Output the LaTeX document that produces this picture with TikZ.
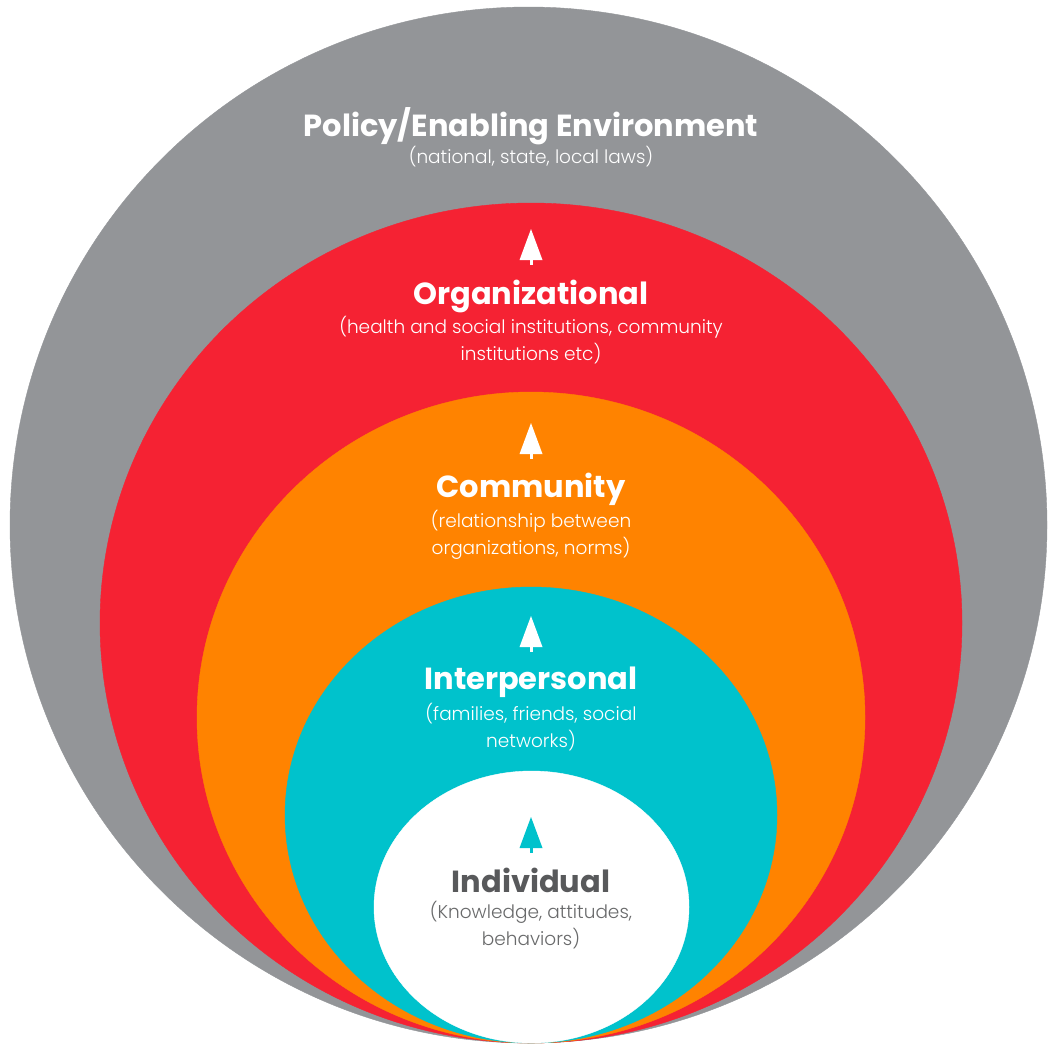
\documentclass[tikz,border=0pt]{standalone}
\usepackage{fontspec}
\setmainfont{Poppins}
\newfontfamily\thinfont{Poppins}[UprightFont=* Light]
\usepackage{tikz}
\definecolor{envgrey}{HTML}{939598}
\definecolor{orgred}{HTML}{F52233}
\definecolor{comorange}{HTML}{FF8300}
\definecolor{interteal}{HTML}{00C2CC}
\definecolor{indgrey}{HTML}{58595B}
\tikzset{
  level/.style={font=\fontsize{30.5}{32}\selectfont\bfseries, text=white, inner sep=0pt},
  levelsub/.style={font=\thinfont\fontsize{18.5}{27}\selectfont, text=white, align=center, inner sep=0pt}
}

\begin{document}
\begin{tikzpicture}[x=1pt,y=-1pt]
\useasboundingbox (0,0) rectangle (1048,1045);
\filldraw[color=envgrey] (528.5,525) ellipse (518.5 and 518);
\filldraw[color=orgred] (531,623) ellipse (431 and 420);
\filldraw[color=comorange] (531,717.5) ellipse (334 and 325.5);
\filldraw[color=interteal] (531,815) ellipse (246 and 228);
\filldraw[color=white] (531.5,907) ellipse (157.5 and 136);

\foreach \y/\c in {247/white,441/white,634/white,835/interteal}
{
\fill[color=\c] (531,\y-18) -- (542.5,\y+13) -- (519.5,\y+13) -- cycle;
\fill[color=\c] (529.5,\y+12) rectangle (532.5,\y+18);
}

\node[level] (policy) at (531,126) {Policy/Enabling Environment};
\node[levelsub] (policysub) at (531,157) {(national, state, local laws)};
\node[level] (org) at (531,296) {Organizational};
\node[levelsub] (orgsub) at (531,340.5) {(health and social institutions, community\\institutions etc)};
\node[level] (com) at (531,489) {Community};
\node[levelsub] (comsub) at (531,534.5) {(relationship between\\organizations, norms)};
\node[level] (inter) at (531,682) {Interpersonal};
\node[levelsub] (intersub) at (531,727.5) {(families, friends, social\\networks)};
\node[level,text=indgrey] (ind) at (531,880) {Individual};
\node[levelsub,text=indgrey!90] (indsub) at (531,925.5) {(Knowledge, attitudes,\\behaviors)};
\end{tikzpicture}
\end{document}
